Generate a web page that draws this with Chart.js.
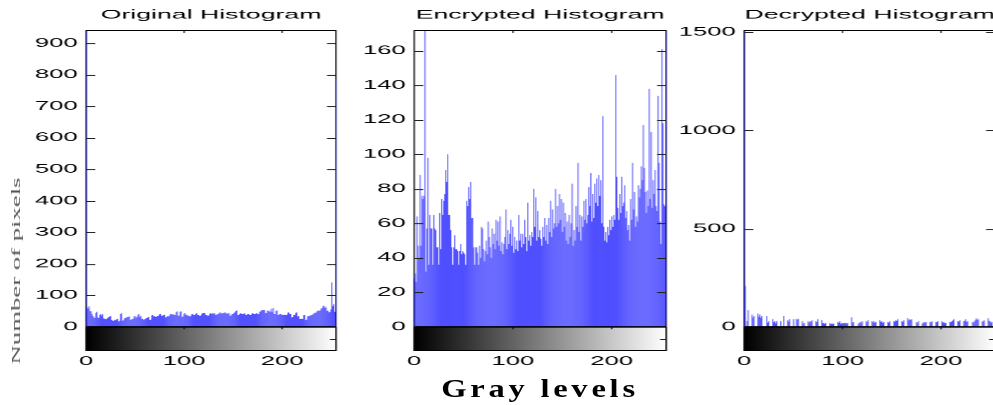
<!DOCTYPE html>
<html><head><meta charset="utf-8">
<script src="https://cdn.jsdelivr.net/npm/chart.js@4.4.1/dist/chart.umd.min.js"></script>
<style>
html,body{margin:0;padding:0;background:#fff;overflow:hidden;width:993px;height:405px;position:relative;}
#stretch{position:absolute;left:0;top:0;height:405px;transform-origin:0 0;}
.panel{position:absolute;top:0;}
#ylab{position:absolute;white-space:nowrap;font-family:'Liberation Serif';font-size:12px;color:#555;line-height:12px;}
#xlab{position:absolute;white-space:nowrap;font-family:'Liberation Serif';font-weight:bold;font-size:26px;line-height:26px;color:#000;letter-spacing:3px;}
</style></head><body>
<div id="stretch"></div>
<div id="ylab">Number of pixels</div>
<div id="xlab">Gray levels</div>
<script>
// ---------------- data ----------------
const grayLevels = Array.from({length: 256}, (_, i) => i);

const originalCounts = [
 942, 62, 58, 65, 50, 49, 40, 34, 30, 29, 44, 48, 30, 28, 38, 41,
 36, 41, 27, 26, 24, 26, 29, 31, 33, 34, 22, 20, 19, 23, 21, 24,
 26, 17, 19, 40, 43, 20, 21, 27, 28, 30, 31, 32, 33, 22, 23, 25,
 26, 33, 34, 29, 31, 39, 41, 32, 34, 25, 26, 22, 24, 27, 28, 30,
 31, 22, 23, 36, 38, 33, 34, 31, 33, 35, 36, 40, 41, 34, 36, 37,
 39, 30, 31, 35, 33, 36, 40, 41, 39, 41, 37, 38, 47, 49, 35, 36,
 48, 49, 32, 33, 42, 43, 38, 39, 35, 36, 33, 34, 40, 41, 37, 38,
 42, 43, 37, 38, 35, 36, 42, 43, 44, 44, 37, 38, 35, 36, 42, 43,
 41, 43, 42, 43, 38, 39, 40, 41, 45, 46, 42, 44, 43, 45, 46, 42,
 43, 41, 43, 35, 36, 40, 41, 45, 46, 51, 52, 37, 38, 42, 43, 40,
 41, 42, 43, 38, 39, 40, 41, 37, 38, 42, 43, 40, 41, 42, 43, 40,
 41, 48, 49, 53, 54, 53, 54, 43, 44, 51, 52, 48, 49, 58, 47, 60,
 40, 41, 51, 52, 38, 39, 40, 41, 38, 39, 38, 39, 37, 38, 45, 46,
 40, 41, 30, 31, 37, 38, 45, 46, 33, 34, 25, 26, 25, 26, 37, 38,
 22, 23, 33, 34, 35, 36, 38, 39, 42, 43, 45, 46, 51, 52, 51, 52,
 58, 60, 66, 67, 61, 62, 51, 52, 46, 47, 55, 141, 66, 72, 48, 786
];

const encryptedCounts = [
 28, 31, 26, 64, 47, 40, 88, 47, 76, 74, 76, 172, 32, 57, 98, 36,
 65, 57, 57, 36, 65, 57, 56, 46, 46, 36, 66, 45, 74, 65, 73, 77,
 91, 84, 100, 65, 65, 56, 46, 36, 46, 53, 45, 45, 44, 36, 44, 48,
 42, 44, 43, 42, 36, 73, 70, 81, 74, 84, 63, 63, 46, 36, 46, 46,
 43, 36, 47, 40, 58, 57, 45, 38, 44, 50, 42, 61, 52, 46, 40, 57,
 48, 54, 45, 62, 50, 61, 47, 64, 44, 49, 42, 48, 52, 68, 45, 56,
 48, 54, 62, 47, 58, 43, 52, 45, 50, 44, 65, 50, 54, 46, 54, 48,
 62, 52, 44, 72, 50, 53, 47, 55, 52, 80, 58, 75, 50, 67, 52, 56,
 51, 47, 58, 52, 63, 50, 59, 48, 63, 55, 73, 52, 68, 57, 60, 80,
 58, 70, 60, 77, 62, 74, 55, 72, 58, 66, 50, 61, 48, 65, 52, 60,
 83, 47, 56, 50, 70, 58, 95, 55, 65, 50, 64, 58, 73, 62, 74, 60,
 65, 81, 70, 89, 61, 77, 63, 83, 72, 86, 70, 88, 76, 85, 60, 122,
 58, 50, 55, 49, 58, 53, 62, 56, 64, 58, 65, 62, 146, 87, 69, 62,
 77, 66, 87, 70, 72, 82, 63, 67, 56, 59, 50, 74, 62, 95, 68, 78,
 58, 64, 61, 82, 75, 80, 93, 85, 117, 92, 78, 66, 79, 70, 138, 74,
 113, 69, 85, 77, 91, 70, 67, 134, 95, 61, 48, 161, 118, 71, 70, 172
];

const decryptedCounts = [
 1509, 208, 0, 30, 85, 0, 0, 0, 63, 48, 54, 0, 0, 0, 68, 52,
 63, 47, 54, 0, 0, 0, 0, 54, 22, 29, 0, 0, 0, 39, 24, 29,
 18, 29, 0, 0, 0, 29, 0, 0, 54, 0, 0, 0, 34, 27, 39, 0,
 0, 0, 39, 0, 0, 42, 36, 42, 0, 0, 0, 29, 17, 20, 0, 0,
 0, 29, 22, 29, 26, 34, 0, 0, 0, 29, 24, 39, 0, 0, 0, 34,
 18, 20, 16, 20, 0, 0, 0, 20, 14, 17, 15, 17, 0, 0, 0, 25,
 21, 29, 16, 20, 17, 20, 18, 20, 17, 20, 0, 0, 0, 49, 22, 25,
 0, 0, 0, 0, 17, 20, 25, 22, 29, 0, 0, 0, 29, 24, 34, 0,
 0, 0, 29, 23, 29, 21, 25, 0, 0, 0, 34, 25, 29, 20, 25, 0,
 0, 0, 25, 22, 29, 0, 0, 0, 29, 27, 34, 30, 39, 0, 0, 0,
 29, 26, 34, 0, 0, 0, 44, 33, 39, 35, 39, 0, 0, 0, 0, 24,
 20, 29, 0, 0, 0, 17, 22, 25, 21, 25, 0, 0, 0, 25, 23, 29,
 0, 0, 0, 25, 24, 29, 0, 0, 0, 29, 22, 25, 19, 20, 0, 0,
 0, 25, 24, 29, 33, 39, 0, 0, 0, 29, 27, 34, 0, 0, 0, 29,
 31, 39, 25, 29, 0, 0, 0, 0, 25, 22, 29, 36, 44, 35, 39, 0,
 0, 0, 29, 27, 34, 0, 0, 0, 44, 31, 29, 22, 25, 0, 30, 28
];

const panelTitles = ['Original Histogram', 'Encrypted Histogram', 'Decrypted Histogram'];
const xTickValues = [0, 100, 200];
const originalYTicks = [0, 100, 200, 300, 400, 500, 600, 700, 800, 900];
const encryptedYTicks = [0, 20, 40, 60, 80, 100, 120, 140, 160];
const decryptedYTicks = [0, 500, 1000, 1500];
const yAxisLimits = [[-76, 942], [-13.9, 172], [-122, 1512]];

// ---------------- layout ----------------
const S = 2.05;            // horizontal stretch of the original figure
const H = 405, TOP = 30, BOTTOM = 350.7;
const panelBoxes = [
  {left: 85.7, right: 335.3},
  {left: 414.3, right: 666.0},
  {left: 743.3, right: 994.0}
];
const LEFT_SPACE = 80, RIGHT_SPACE = 4;

const stretch = document.getElementById('stretch');
stretch.style.width = (1100 / S) + 'px';
stretch.style.transform = 'scaleX(' + S + ')';

const framePlugin = {
  id: 'frame',
  beforeDatasetsDraw(chart) {
    const {ctx, chartArea: a} = chart;
    ctx.save();
    ctx.strokeStyle = '#000';
    ctx.lineWidth = 1.25 / S;
    ctx.beginPath();
    ctx.moveTo(a.left, a.top); ctx.lineTo(a.left, a.bottom);
    ctx.moveTo(a.right, a.top); ctx.lineTo(a.right, a.bottom);
    ctx.stroke();
    ctx.restore();
  },
  afterDatasetsDraw(chart) {
    const {ctx, chartArea: a, scales: {x, y}} = chart;
    const y0 = y.getPixelForValue(0);
    ctx.save();
    // colour bar (gray ramp of the gray levels)
    const g = ctx.createLinearGradient(x.getPixelForValue(0), 0, x.getPixelForValue(255), 0);
    g.addColorStop(0, '#000'); g.addColorStop(1, '#fff');
    ctx.fillStyle = g;
    ctx.fillRect(a.left, y0, a.right - a.left, a.bottom - y0);
    ctx.strokeStyle = '#000';
    // horizontal lines
    ctx.lineWidth = 1;
    ctx.beginPath();
    ctx.moveTo(a.left, a.top + 0.5); ctx.lineTo(a.right, a.top + 0.5);
    ctx.moveTo(a.left, a.bottom - 0.5); ctx.lineTo(a.right, a.bottom - 0.5);
    ctx.stroke();
    ctx.lineWidth = 1.6;
    ctx.beginPath();
    ctx.moveTo(a.left, y0); ctx.lineTo(a.right, y0);
    ctx.stroke();
    // vertical sides of colour bar
    ctx.lineWidth = 1.25 / S;
    ctx.beginPath();
    ctx.moveTo(a.left, y0); ctx.lineTo(a.left, a.bottom);
    ctx.moveTo(a.right, y0); ctx.lineTo(a.right, a.bottom);
    ctx.stroke();
    // y ticks (inward, both sides)
    const tl = 9 / S;
    ctx.strokeStyle = '#222';
    ctx.lineWidth = 1;
    ctx.beginPath();
    y.ticks.forEach(t => {
      if (t.value <= 0) return;
      const py = Math.round(y.getPixelForValue(t.value)) + 0.5;
      ctx.moveTo(a.left, py); ctx.lineTo(a.left + tl, py);
      ctx.moveTo(a.right, py); ctx.lineTo(a.right - tl, py);
    });
    const pm = Math.round((y0 + a.bottom) / 2) + 0.5;
    ctx.moveTo(a.right, pm); ctx.lineTo(a.right - 6 / S, pm);
    ctx.stroke();
    // x ticks at top (inward)
    ctx.lineWidth = 1.2 / S;
    ctx.strokeStyle = '#000';
    ctx.beginPath();
    x.ticks.forEach(t => {
      if (t.value <= 0) return;
      const px = x.getPixelForValue(t.value);
      ctx.moveTo(px, a.top); ctx.lineTo(px, a.top + 3);
      ctx.moveTo(px, y0); ctx.lineTo(px, y0 + 2.5);
    });
    ctx.stroke();
    ctx.restore();
  }
};

function makePanel(i, counts, yTicks) {
  const box = panelBoxes[i];
  const cLeftReal = box.left - LEFT_SPACE;
  const wLog = Math.ceil((box.right + RIGHT_SPACE - cLeftReal) / S);
  const yW = LEFT_SPACE / S;
  const plotW = (box.right - box.left) / S;
  const padR = wLog - yW - plotW;

  const div = document.createElement('div');
  div.className = 'panel';
  div.style.left = (cLeftReal / S) + 'px';
  div.style.width = wLog + 'px';
  div.style.height = H + 'px';
  const cv = document.createElement('canvas');
  cv.width = wLog; cv.height = H;
  cv.style.width = wLog + 'px'; cv.style.height = H + 'px';
  div.appendChild(cv);
  stretch.appendChild(div);

  const [yMin, yMax] = yAxisLimits[i];
  const tickFont = {family: 'Liberation Sans', size: 12.5, weight: 'normal'};

  new Chart(cv, {
    type: 'bar',
    data: {
      datasets: [{
        data: counts.map((v, k) => ({x: grayLevels[k], y: v})),
        backgroundColor: '#0000ff',
        borderWidth: 0,
        barPercentage: 1,
        categoryPercentage: 0.7,
        clip: false
      }]
    },
    options: {
      responsive: false,
      animation: false,
      devicePixelRatio: S,
      events: [],
      layout: {padding: {left: 0, right: padR, top: 0, bottom: 0}},
      plugins: {
        legend: {display: false},
        tooltip: {enabled: false},
        title: {
          display: true, text: panelTitles[i], fullSize: false, color: '#000',
          font: {family: 'Liberation Sans', size: 13, weight: 'normal', lineHeight: 1.2},
          padding: {top: 7.2, bottom: 7.2}
        }
      },
      scales: {
        x: {
          type: 'linear', min: 0, max: 255, offset: false,
          grid: {display: false, drawTicks: false}, border: {display: false},
          ticks: {font: tickFont, color: '#000', padding: 3, maxRotation: 0, autoSkip: false,
                  callback: v => String(v)},
          afterBuildTicks: sc => { sc.ticks = xTickValues.map(v => ({value: v})); },
          afterFit: sc => { sc.height = H - BOTTOM; }
        },
        y: {
          type: 'linear', min: yMin, max: yMax,
          grid: {display: false, drawTicks: false}, border: {display: false},
          ticks: {font: tickFont, color: '#000', padding: 8.5 / S, autoSkip: false,
                  callback: v => String(v)},
          afterBuildTicks: sc => { sc.ticks = yTicks.map(v => ({value: v})); },
          afterFit: sc => { sc.width = yW; }
        }
      }
    },
    plugins: [framePlugin]
  });
}

makePanel(0, originalCounts, originalYTicks);
makePanel(1, encryptedCounts, encryptedYTicks);
makePanel(2, decryptedCounts, decryptedYTicks);

// axis labels shared by the three panels
const ylab = document.getElementById('ylab');
const yk = 187 / ylab.offsetWidth;
ylab.style.left = '15.7px'; ylab.style.top = '271px';
ylab.style.transform = 'translate(-50%,-50%) rotate(-90deg) scaleX(' + yk + ')';

const xlab = document.getElementById('xlab');
const xk = 194 / (xlab.offsetWidth - 3);
xlab.style.left = '540px'; xlab.style.top = '375.5px';
xlab.style.transform = 'translateX(-50%) scaleX(' + xk + ')';
</script>
</body></html>
